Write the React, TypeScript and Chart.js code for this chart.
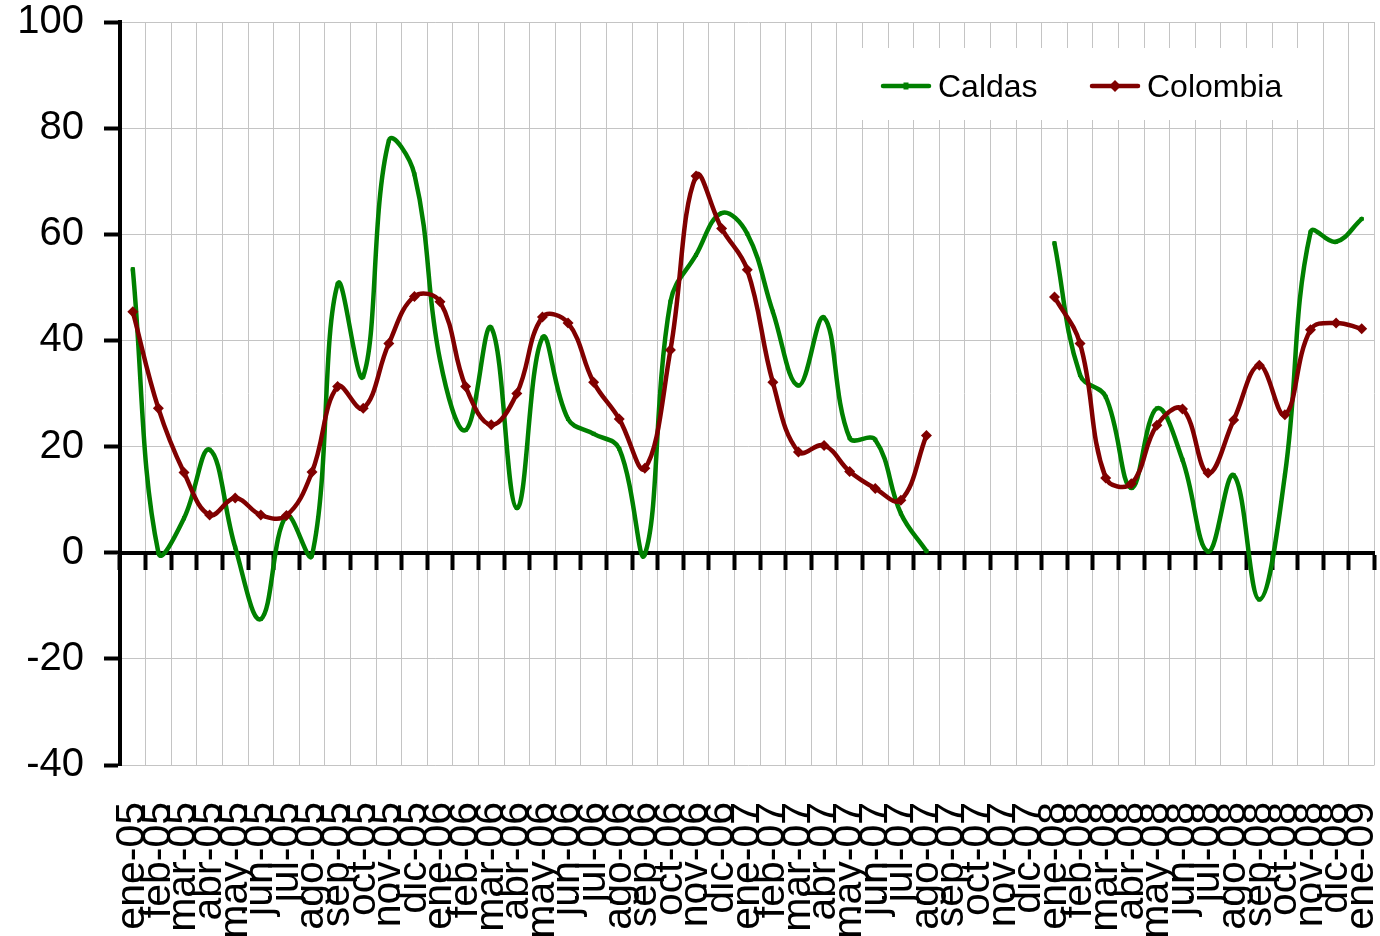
import { useEffect, useRef } from 'react';
import { Chart, registerables } from 'chart.js';

Chart.register(...registerables);

const monthLabels: string[] = [
  'ene-05', 'feb-05', 'mar-05', 'abr-05', 'may-05', 'jun-05', 'jul-05', 'ago-05', 'sep-05', 'oct-05', 'nov-05', 'dic-05',
  'ene-06', 'feb-06', 'mar-06', 'abr-06', 'may-06', 'jun-06', 'jul-06', 'ago-06', 'sep-06', 'oct-06', 'nov-06', 'dic-06',
  'ene-07', 'feb-07', 'mar-07', 'abr-07', 'may-07', 'jun-07', 'jul-07', 'ago-07', 'sep-07', 'oct-07', 'nov-07', 'dic-07',
  'ene-08', 'feb-08', 'mar-08', 'abr-08', 'may-08', 'jun-08', 'jul-08', 'ago-08', 'sep-08', 'oct-08', 'nov-08', 'dic-08',
  'ene-09',
];

const caldas: (number | null)[] = [
  53.4, 0, 6.5, 19.4, 1, -12.5, 7, -0.5, 50.6, 33.2, 77.6, 71.3,
  36.3, 23.1, 42.4, 8.4, 40.5, 25.2, 22.4, 19.6, -0.3, 47.3, 56.1, 64.0,
  60.1, 45.4, 31.5, 44.3, 21.6, 21.3, 7.4, 0.3, null, null, null, null,
  58.3, 33.5, 29.4, 12.2, 27.2, 17.5, 0.2, 14.6, -8.8, 14.6, 60.4, 58.6,
  62.9,
];

const colombia: (number | null)[] = [
  45.4, 27.2, 15.1, 7.1, 10.3, 7.1, 7.0, 15.2, 31.3, 27.2, 39.4, 48.3,
  47.3, 31.3, 24.1, 30.0, 44.4, 43.3, 32.1, 25.2, 15.9, 38.2, 71.0, 61.1,
  53.3, 32.1, 19.0, 20.2, 15.3, 12.1, 9.9, 22.1, null, null, null, null,
  48.2, 39.4, 14.1, 13.0, 24.0, 27.1, 15.0, 25.0, 35.3, 26.0, 42.0, 43.3,
  42.2,
];

const seriesNames: string[] = ['Caldas', 'Colombia'];

const Y_MIN = -40;
const Y_MAX = 100;
const Y_STEP = 20;

const GREEN = '#008000';
const RED = '#800000';
const GRID = '#c4c4c4';
const FONT = "'Liberation Sans', Arial, sans-serif";

const insideLegend = {
  id: 'insideLegend',
  beforeDatasetsDraw(chart: any) {
    const ctx: CanvasRenderingContext2D = chart.ctx;
    ctx.save();
    ctx.fillStyle = '#ffffff';
    ctx.fillRect(862, 48, 442, 72);
    const items = [
      { label: seriesNames[0], color: GREEN, x: 883, marker: 'rect' },
      { label: seriesNames[1], color: RED, x: 1092, marker: 'diamond' },
    ];
    const y = 86;
    for (const it of items) {
      ctx.strokeStyle = it.color;
      ctx.lineWidth = 4.5;
      ctx.lineCap = 'round';
      ctx.beginPath();
      ctx.moveTo(it.x, y);
      ctx.lineTo(it.x + 46, y);
      ctx.stroke();
      ctx.fillStyle = it.color;
      const cx = it.x + 23;
      if (it.marker === 'rect') {
        ctx.fillRect(cx - 2.5, y - 3.5, 5, 7);
      } else {
        ctx.beginPath();
        ctx.moveTo(cx, y - 6);
        ctx.lineTo(cx + 6, y);
        ctx.lineTo(cx, y + 6);
        ctx.lineTo(cx - 6, y);
        ctx.closePath();
        ctx.fill();
      }
      ctx.fillStyle = '#000';
      ctx.font = `32px ${FONT}`;
      ctx.textBaseline = 'alphabetic';
      ctx.textAlign = 'left';
      ctx.fillText(it.label, it.x + 55, 97);
    }
    ctx.restore();
  },
};

export default function App() {
  const ref = useRef<HTMLCanvasElement>(null);

  useEffect(() => {
    if (!ref.current) return;
    const chart = new Chart(ref.current, {
      type: 'line',
      data: {
        labels: monthLabels,
        datasets: [
          {
            label: seriesNames[0],
            data: caldas,
            borderColor: GREEN,
            backgroundColor: GREEN,
            borderWidth: 4.5,
            pointStyle: 'rect',
            pointRadius: 2.8,
            pointBorderWidth: 0,
            pointBackgroundColor: GREEN,
            tension: 0.4,
            spanGaps: false,
            borderJoinStyle: 'round',
            borderCapStyle: 'round',
            order: 1,
            xAxisID: 'x',
            yAxisID: 'y',
          },
          {
            label: seriesNames[1],
            data: colombia,
            borderColor: RED,
            backgroundColor: RED,
            borderWidth: 4.5,
            pointStyle: 'rectRot',
            pointRadius: 5.5,
            pointBorderWidth: 0,
            pointBackgroundColor: RED,
            tension: 0.4,
            spanGaps: false,
            borderJoinStyle: 'round',
            borderCapStyle: 'round',
            order: 0,
            xAxisID: 'x',
            yAxisID: 'y',
          },
        ],
      },
      options: {
        responsive: false,
        animation: false,
        devicePixelRatio: 1,
        layout: { padding: { top: 22, right: 2, left: 0, bottom: 0 } },
        plugins: {
          legend: { display: false },
          tooltip: { enabled: false },
        },
        scales: {
          x: {
            type: 'category',
            position: 'bottom',
            offset: true,
            grid: { offset: true, color: GRID, lineWidth: 1, drawTicks: false },
            border: { display: false },
            ticks: {
              autoSkip: false,
              minRotation: 90,
              maxRotation: 90,
              padding: 37,
              color: '#000',
              font: { family: FONT, size: 41 },
            },
            afterFit: (s: any) => {
              s.height = 171;
              s.paddingLeft = 0;
              s.paddingRight = 0;
            },
          },
          x2: {
            type: 'category',
            axis: 'x',
            position: { y: 0 },
            offset: true,
            grid: {
              offset: true,
              drawOnChartArea: false,
              drawTicks: true,
              tickLength: 15,
              tickWidth: 4,
              tickColor: '#000',
            },
            border: { display: true, color: '#000', width: 4 },
            ticks: { display: false },
          },
          y: {
            type: 'linear',
            position: 'left',
            min: Y_MIN,
            max: Y_MAX,
            ticks: {
              stepSize: Y_STEP,
              padding: 20,
              color: '#000',
              font: { family: FONT, size: 40 },
            },
            grid: {
              color: GRID,
              lineWidth: 1,
              drawTicks: true,
              tickLength: 16,
              tickWidth: 4,
              tickColor: '#000',
            },
            border: { display: true, color: '#000', width: 4 },
            afterFit: (s: any) => {
              s.width = 120;
              s.paddingTop = 0;
              s.paddingBottom = 0;
            },
          },
        },
      } as any,
      plugins: [insideLegend],
    });
    return () => chart.destroy();
  }, []);

  return (
    <div style={{ position: 'absolute', left: 0, top: 0, width: 1380, height: 936, background: '#fff' }}>
      <canvas ref={ref} width={1380} height={936} style={{ display: 'block', width: 1380, height: 936 }} />
    </div>
  );
}
